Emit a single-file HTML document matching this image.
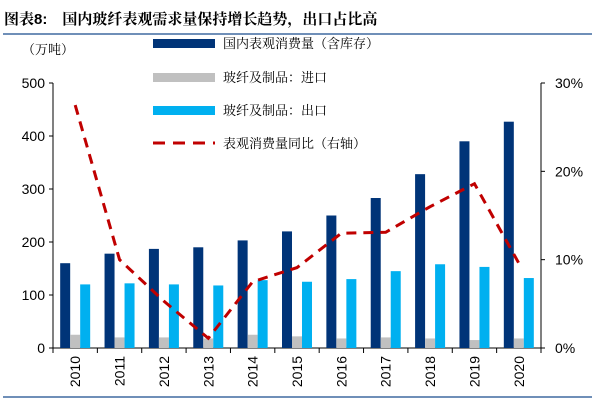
<!DOCTYPE html>
<html><head><meta charset="utf-8"><style>
body{margin:0;background:#fff;width:600px;height:400px;overflow:hidden;font-family:"Liberation Sans","Noto Sans CJK SC",sans-serif}
</style></head><body>
<svg width="600" height="400" xmlns="http://www.w3.org/2000/svg">
<text x="4" y="24" font-size="15" font-weight="bold" font-family="Liberation Sans,Noto Serif CJK SC,serif">图表8:　国内玻纤表观需求量保持增长趋势，出口占比高</text>
<line x1="3" y1="34" x2="592" y2="34" stroke="#6f8fb8" stroke-width="2"/>
<line x1="3" y1="397" x2="592" y2="397" stroke="#6f8fb8" stroke-width="2"/>
<text x="22" y="54" font-size="13" font-family="Liberation Sans,Noto Serif CJK SC,serif">（万吨）</text>
<g id="legend"></g>
<g id="plot"></g>
</svg>
<script>
const years=["2010","2011","2012","2013","2014","2015","2016","2017","2018","2019","2020"];
const domestic=[160,178,187,190,203,220,250,283,328,390,427];
const imports=[25,20,20,18,25,22,18,20,18,15,18];
const exports=[120,122,120,118,128,125,130,145,158,153,132];
const yoy=[27.5,10,5.3,1.1,7.5,9.1,13,13.1,16,18.6,9.6];
const leftTicks=[0,100,200,300,400,500];
const rightTicks=[0,10,20,30];
const NS="http://www.w3.org/2000/svg";
const X0=53,X1=541,Y0=348,Y1=83;
const cw=(X1-X0)/years.length;
const yL=v=>Y0-(v/500)*(Y0-Y1);
const yR=v=>Y0-(v/30)*(Y0-Y1);
const plot=document.getElementById('plot');
function mk(t,a,p){const e=document.createElementNS(NS,t);for(const k in a)e.setAttribute(k,a[k]);(p||plot).appendChild(e);return e;}
const FF="Liberation Sans,Noto Sans CJK SC,sans-serif";
const SF="Liberation Serif,Noto Serif CJK SC,serif";
let e;
e=mk('line',{x1:X0,y1:Y1,x2:X0,y2:Y0,stroke:'#000'});


e=mk('line',{x1:X1,y1:Y1,x2:X1,y2:Y0,stroke:'#000'});


e=mk('line',{x1:X0,y1:Y0,x2:X1,y2:Y0,stroke:'#000'});


leftTicks.forEach(v=>{
 mk('line',{x1:X0-4,y1:yL(v),x2:X0,y2:yL(v),stroke:'#000'});
 e=mk('text',{x:X0-8,y:yL(v)+5,'text-anchor':'end','font-size':14,'font-family':FF});
 e.textContent=v;
 
 
});
rightTicks.forEach(v=>{
 mk('line',{x1:X1,y1:yR(v),x2:X1+4,y2:yR(v),stroke:'#000'});
 e=mk('text',{x:X1+14,y:yR(v)+5,'font-size':14,'font-family':FF});
 e.textContent=v+'%';
 
 
});
for(let i=0;i<=years.length;i++){mk('line',{x1:X0+i*cw,y1:Y0,x2:X0+i*cw,y2:Y0+5,stroke:'#000'});}
years.forEach((y,i)=>{
 const cx=X0+(i+0.5)*cw;
 e=mk('text',{x:0,y:0,'font-size':14,'font-family':FF,'text-anchor':'end',transform:`translate(${cx+5},${Y0+8}) rotate(-90)`});
 e.textContent=y;
 
 
 const bw=10,gx=cx-15;
 [[domestic,'#003478','bar-domestic'],[imports,'#c0c0c0','bar-import'],[exports,'#00b0f0','bar-export']].forEach((s,k)=>{
  const v=s[0][i];
  e=mk('rect',{x:gx+k*bw,y:yL(v),width:bw,height:Y0-yL(v),fill:s[1]});
  
  
 });
});
const pts=yoy.map((v,i)=>(X0+(i+0.5)*cw)+','+yR(v)).join(' ');
e=mk('polyline',{points:pts,fill:'none',stroke:'#c00000','stroke-width':3,'stroke-dasharray':'10,7'});


const lg=document.getElementById('legend');
const items=[['国内表观消费量（含库存）','#003478',43,'rect'],['玻纤及制品：进口','#c0c0c0',77,'rect'],['玻纤及制品：出口','#00b0f0',110,'rect'],['表观消费量同比（右轴）','#c00000',143,'line']];
items.forEach(it=>{
 const g=mk('g',{},lg);
 
 
 if(it[3]==='rect')mk('rect',{x:153,y:it[2]-4,width:62,height:9,fill:it[1]},g);
 else mk('line',{x1:153,y1:it[2],x2:215,y2:it[2],stroke:it[1],'stroke-width':3,'stroke-dasharray':'12,8'},g);
 const t=mk('text',{x:223,y:it[2]+5,'font-size':13,'font-family':SF},g);
 t.textContent=it[0];
});
</script>
</body></html>
